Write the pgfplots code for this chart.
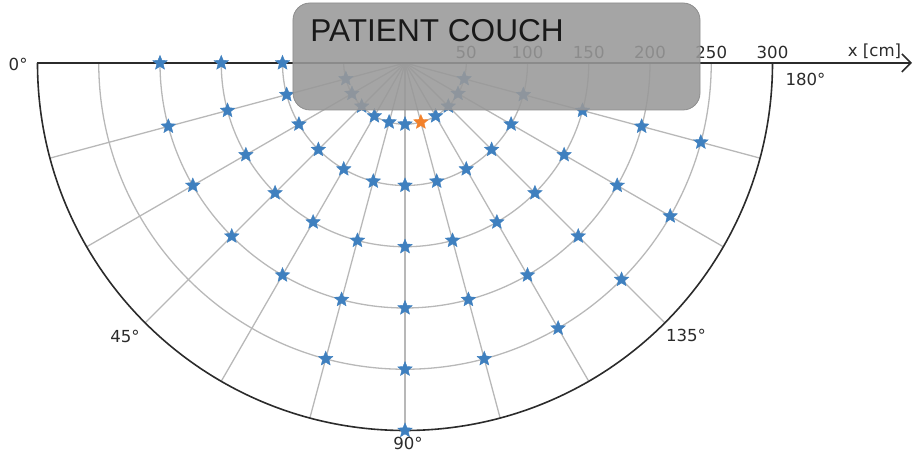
\documentclass[border=0pt]{standalone}
\usepackage{fontspec}
\setmainfont{DejaVu Sans}
\newfontfamily\couchfont{Liberation Sans}
\usepackage{pgfplots}
\usepackage{pgfplotstable}
\pgfplotsset{compat=1.18}
\usetikzlibrary{arrows.meta}

\definecolor{starblue}{HTML}{3F80BF}
\definecolor{starorange}{HTML}{F2812B}
\definecolor{gridgray}{HTML}{B8B8B8}
\definecolor{couchgray}{HTML}{999999}
\definecolor{axisdark}{HTML}{2B2B2B}

% filled five point star, like matplotlib's '*'
\pgfdeclareplotmark{fstar}{%
  \pgfpathmoveto{\pgfpointpolar{90}{\pgfplotmarksize}}%
  \pgfpathlineto{\pgfpointpolar{126}{0.45\pgfplotmarksize}}%
  \pgfpathlineto{\pgfpointpolar{162}{\pgfplotmarksize}}%
  \pgfpathlineto{\pgfpointpolar{198}{0.45\pgfplotmarksize}}%
  \pgfpathlineto{\pgfpointpolar{234}{\pgfplotmarksize}}%
  \pgfpathlineto{\pgfpointpolar{270}{0.45\pgfplotmarksize}}%
  \pgfpathlineto{\pgfpointpolar{306}{\pgfplotmarksize}}%
  \pgfpathlineto{\pgfpointpolar{342}{0.45\pgfplotmarksize}}%
  \pgfpathlineto{\pgfpointpolar{18}{\pgfplotmarksize}}%
  \pgfpathlineto{\pgfpointpolar{54}{0.45\pgfplotmarksize}}%
  \pgfpathclose
  \pgfusepathqfillstroke
}

% angle a = 180 + gantry angle (deg), r in cm
\pgfplotstableread{
a r
180 100
180 150
180 200
195 50
195 100
195 150
195 200
210 50
210 100
210 150
210 200
225 50
225 100
225 150
225 200
240 50
240 100
240 150
240 200
255 50
255 100
255 150
255 200
255 250
270 50
270 100
270 150
270 200
270 250
270 300
285 100
285 150
285 200
285 250
300 50
300 100
300 150
300 200
300 250
315 50
315 100
315 150
315 200
315 250
330 50
330 100
330 150
330 200
330 250
345 50
345 100
345 150
345 200
345 250
}\bluestars

\pgfplotstableread{
a r
285 50
}\orangestars

\begin{document}
\begin{tikzpicture}[font=\fontsize{8.3}{10}\selectfont]
\useasboundingbox (-202.5pt,-197.5pt) rectangle (255pt,31.5pt);

% polar grid (1 cm = 0.6125pt)
\foreach \a in {195,210,...,345}
  \draw[gridgray, line width=0.65pt] (0,0) -- (\a:183.75pt);
\foreach \r in {50,100,...,250}
  \draw[gridgray, line width=0.65pt] ({-\r*0.6125pt},0) arc[start angle=180, end angle=360, radius={\r*0.6125pt}];
\draw[axisdark, line width=0.8pt] (-183.75pt,0) arc[start angle=180, end angle=360, radius=183.75pt];
\draw[axisdark, line width=0.8pt, -{Straight Barb[length=4.5pt,width=9pt]}] (-183.75pt,0) -- (253.5pt,0);

\begin{axis}[
  anchor=origin, at={(0pt,0pt)},
  x=0.6125pt, y=0.6125pt,
  xmin=-300, xmax=300, ymin=-300, ymax=0,
  hide axis, clip=false,
]
\addplot[only marks, data cs=polar, mark=fstar, mark size=3.8pt,
  draw=starblue, fill=starblue, line width=0.2pt] table[x=a, y=r] {\bluestars};
\addplot[only marks, data cs=polar, mark=fstar, mark size=3.8pt,
  draw=starorange, fill=starorange, line width=0.2pt] table[x=a, y=r] {\orangestars};
\end{axis}

% radius tick labels
\foreach \r in {50,100,...,300}
  \node[anchor=base, inner sep=0pt, text=axisdark] at ({\r*0.6125pt},2pt) {\r};
\node[inner sep=0pt, text=axisdark] at (234.75pt,6pt) {x [cm]};

% angle labels
\node[anchor=east, inner sep=0pt, text=axisdark] at (-188.5pt,-0.5pt) {0°};
\node[inner sep=0pt, text=axisdark] at (-140pt,-136.5pt) {45°};
\node[inner sep=0pt, text=axisdark] at (1.5pt,-190pt) {90°};
\node[inner sep=0pt, text=axisdark] at (140.5pt,-136pt) {135°};
\node[inner sep=0pt, text=axisdark] at (200.25pt,-8.25pt) {180°};

% patient couch
\draw[draw=black!45, fill=couchgray, fill opacity=0.88, line width=0.4pt, rounded corners=8.5pt]
  (-56pt,30pt) rectangle (147.5pt,-23.5pt);
\node[anchor=base west, inner sep=0pt, text=black!90] at (-47.5pt,10.5pt)
  {\couchfont\fontsize{15.8}{18}\selectfont PATIENT COUCH};
\end{tikzpicture}
\end{document}
